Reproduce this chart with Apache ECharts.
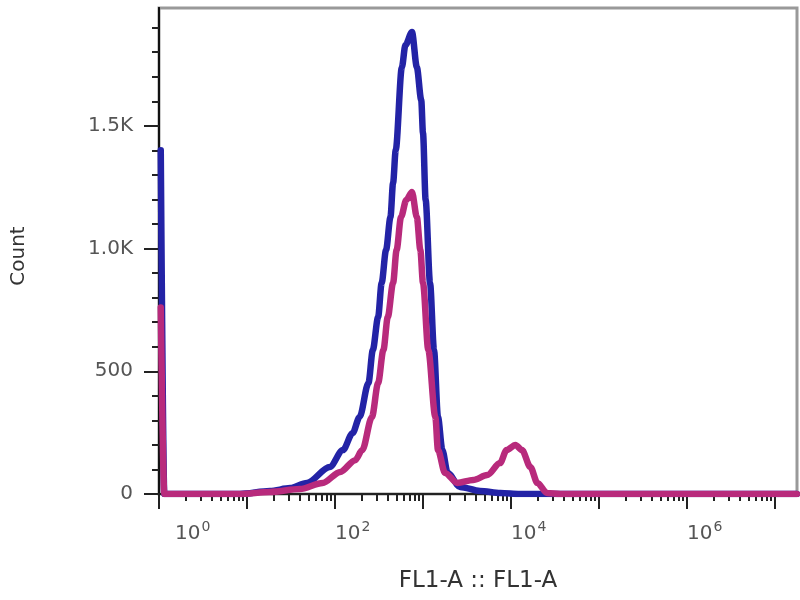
<!DOCTYPE html>
<html>
<head>
<meta charset="utf-8">
<script src="https://cdn.jsdelivr.net/npm/echarts@6/dist/echarts.min.js"></script>
<style>
html,body{margin:0;padding:0;background:#fff;}
#chart{width:800px;height:600px;}
</style>
</head>
<body>
<div id="chart"></div>
<script>
// Bin positions are in decades (log10 of FL1-A); counts per bin.
const blueBins = [0.02, 0.06, 0.92, 1.26, 1.49, 1.68, 1.94, 2.09, 2.20, 2.28, 2.38, 2.43, 2.49, 2.53, 2.58, 2.63, 2.66, 2.69, 2.76, 2.80, 2.875, 2.93, 2.98, 3.0, 3.03, 3.08, 3.125, 3.17, 3.22, 3.28, 3.42, 3.65, 3.88, 4.1, 7.25];
const blueCounts = [1400, 0, 0, 12, 24, 45, 110, 179, 248, 314, 452, 587, 721, 860, 994, 1128, 1267, 1401, 1739, 1829, 1882, 1739, 1605, 1470, 1198, 860, 587, 314, 179, 86, 29, 12, 4, 0, 0];
const pinkBins = [0.02, 0.06, 0.92, 1.26, 1.6, 1.86, 2.06, 2.23, 2.31, 2.42, 2.49, 2.55, 2.6, 2.66, 2.70, 2.75, 2.81, 2.875, 2.93, 2.97, 3.0, 3.06, 3.14, 3.17, 3.25, 3.39, 3.57, 3.73, 3.875, 3.95, 4.05, 4.125, 4.22, 4.3, 4.41, 4.56, 7.25];
const pinkCounts = [760, 0, 0, 8, 20, 45, 90, 138, 179, 314, 452, 587, 721, 860, 994, 1128, 1198, 1230, 1128, 994, 860, 587, 314, 179, 86, 45, 57, 77, 126, 179, 200, 179, 110, 45, 4, 0, 0];
const xDecades = [0, 1, 2, 3, 4, 5, 6, 7];
const xLabelDecades = [0, 2, 4, 6];
const yTicks = [0, 500, 1000, 1500];
const yTickLabels = ['0', '500', '1.0K', '1.5K'];
const yMinorTicks = [100, 200, 300, 400, 600, 700, 800, 900, 1100, 1200, 1300, 1400, 1600, 1700, 1800, 1900];
const xMinorTicks = [];
xDecades.forEach(function (d) {
  for (let k = 2; k <= 9; k++) {
    const v = d + Math.log10(k);
    if (v <= 7.25) xMinorTicks.push(v);
  }
});

const X_MIN = 0, X_MAX = 7.25, Y_MIN = 0, Y_MAX = 1980;
const font = 'DejaVu Sans';
const labelColor = '#555';
const axisColor = '#222';

function pairs(xs, ys) { return xs.map(function (x, i) { return [x, ys[i]]; }); }

const chart = echarts.init(document.getElementById('chart'), null, {renderer: 'canvas'});
chart.setOption({
  animation: false,
  backgroundColor: '#fff',
  grid: {
    left: 159, right: 3, top: 8, bottom: 106,
    containLabel: false, outerBoundsMode: 'none',
    show: true, borderColor: '#999', borderWidth: 3, backgroundColor: '#fff'
  },
  xAxis: [
    {
      type: 'value', min: X_MIN, max: X_MAX, position: 'bottom',
      name: 'FL1-A :: FL1-A', nameLocation: 'middle', nameGap: 76,
      nameTextStyle: {fontFamily: font, fontSize: 23, color: '#333'},
      axisLine: {show: true, onZero: false, lineStyle: {color: axisColor, width: 2}},
      axisTick: {show: true, customValues: xDecades, length: 15, lineStyle: {color: axisColor, width: 2}},
      axisLabel: {
        show: true, customValues: xLabelDecades, margin: 26, align: 'left',
        formatter: function (v) {
          const n = Math.round(v);
          return (n === 0 ? '{b0|10}' : '{b|10}') + '{s|' + n + '}';
        },
        rich: {
          b: {fontFamily: font, fontSize: 20, color: labelColor},
          b0: {fontFamily: font, fontSize: 20, color: labelColor, padding: [0, 0, 0, 16]},
          s: {fontFamily: font, fontSize: 14, color: labelColor, padding: [0, 0, 14, 1]}
        }
      },
      splitLine: {show: false}
    },
    {
      type: 'value', min: X_MIN, max: X_MAX, position: 'bottom',
      axisLine: {show: false},
      axisTick: {show: true, customValues: xMinorTicks, length: 7, lineStyle: {color: axisColor, width: 2}},
      axisLabel: {show: false},
      splitLine: {show: false}
    }
  ],
  yAxis: [
    {
      type: 'value', min: Y_MIN, max: Y_MAX, interval: 500, position: 'left',
      name: 'Count', nameLocation: 'middle', nameGap: 130, nameRotate: 90,
      nameTextStyle: {fontFamily: font, fontSize: 20, color: '#333', padding: [0, 10, 0, 0]},
      axisLine: {show: true, onZero: false, lineStyle: {color: axisColor, width: 2}},
      axisTick: {show: true, customValues: yTicks, length: 15, lineStyle: {color: axisColor, width: 2}},
      axisLabel: {
        show: true, customValues: yTicks, margin: 26,
        fontFamily: font, fontSize: 20, color: labelColor,
        formatter: function (v) { const i = yTicks.indexOf(v); return i >= 0 ? yTickLabels[i] : ''; }
      },
      splitLine: {show: false}
    },
    {
      type: 'value', min: Y_MIN, max: Y_MAX, position: 'left',
      axisLine: {show: false},
      axisTick: {show: true, customValues: yMinorTicks, length: 7, lineStyle: {color: axisColor, width: 2}},
      axisLabel: {show: false},
      splitLine: {show: false}
    },
    {
      type: 'value', min: Y_MIN, max: Y_MAX, position: 'right',
      axisLine: {show: true, lineStyle: {color: '#111', width: 2}},
      axisTick: {show: false}, axisLabel: {show: false}, splitLine: {show: false}
    }
  ],
  series: [
    {
      type: 'line', name: 'blue', xAxisIndex: 0, yAxisIndex: 0,
      data: pairs(blueBins, blueCounts),
      showSymbol: false, smooth: 0.3, smoothMonotone: 'x',
      lineStyle: {color: '#2323a6', width: 6.5, join: 'round', cap: 'round'},
      z: 3
    },
    {
      type: 'line', name: 'pink', xAxisIndex: 0, yAxisIndex: 0,
      data: pairs(pinkBins, pinkCounts),
      showSymbol: false, smooth: 0.3, smoothMonotone: 'x',
      lineStyle: {color: '#b82a7c', width: 6.5, join: 'round', cap: 'round'},
      z: 4
    }
  ]
});
</script>
</body>
</html>
